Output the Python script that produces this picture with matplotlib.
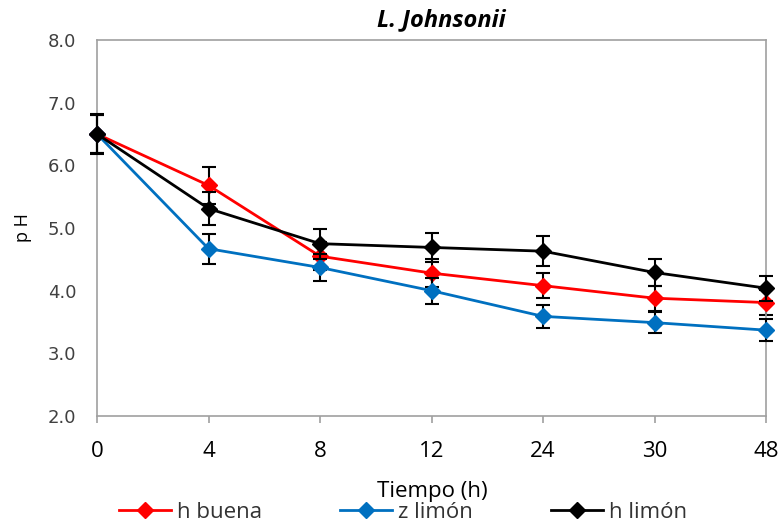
import matplotlib
matplotlib.use("Agg")
import matplotlib.pyplot as plt
import numpy as np

categories = ["0", "4", "8", "12", "24", "30", "48"]
h_buena = [6.50, 5.68, 4.55, 4.28, 4.08, 3.88, 3.81]
h_buena_err = [0.30, 0.30, 0.22, 0.22, 0.20, 0.20, 0.20]
z_limon = [6.50, 4.67, 4.37, 4.00, 3.59, 3.49, 3.37]
z_limon_err = [0.30, 0.24, 0.22, 0.21, 0.18, 0.17, 0.17]
h_limon = [6.50, 5.31, 4.75, 4.69, 4.63, 4.29, 4.04]
h_limon_err = [0.32, 0.27, 0.24, 0.23, 0.24, 0.21, 0.20]

plt.rcParams['font.family'] = ['Open Sans', 'DejaVu Sans']

fig = plt.figure(figsize=(7.82, 5.27), dpi=100)
ax = fig.add_axes([97/782, 1-416/527, (766-97)/782, (416-40)/527])

x = np.arange(len(categories))
series = [
    ("h buena", h_buena, h_buena_err, "#FF0000"),
    ("z limón", z_limon, z_limon_err, "#0070C0"),
    ("h limón", h_limon, h_limon_err, "#000000"),
]
handles = []
for i, (name, vals, err, col) in enumerate(series):
    ax.errorbar(x, vals, yerr=err, fmt='none', ecolor='black', elinewidth=1.5,
                capsize=5, capthick=1.5, zorder=2 + i * 2, clip_on=False)
    ln, = ax.plot(x, vals, color=col, lw=2, marker='D', markersize=8.5,
                  markeredgecolor=col, label=name, zorder=3 + i * 2, clip_on=False)
    handles.append(ln)

ax.set_xlim(0, len(categories) - 1)
ax.set_ylim(2.0, 8.0)
yt = np.arange(2.0, 8.01, 1.0)
ax.set_yticks(yt)
ax.set_yticklabels([f"{v:.1f}" for v in yt], family=['DejaVu Sans'])
ax.set_xticks(x)
ax.set_xticklabels(categories)

for s in ax.spines.values():
    s.set_color('#A0A0A0')
    s.set_linewidth(1.2)
ax.tick_params(axis='y', length=0, labelsize=13, labelcolor='#404040', pad=15)
ax.tick_params(axis='x', length=5, color='#A0A0A0', width=1.2, labelsize=16,
               labelcolor='#000000', pad=13)

ax.set_ylabel("p H", fontsize=13, labelpad=11)
fig.text(441/782, 1-20/527, "L. Johnsonii", ha='center', va='center',
         fontsize=17, fontweight='bold', fontstyle='italic')
fig.text(432/782, 1-492/527, "Tiempo (h)", ha='center', va='center', fontsize=16)

leg = fig.legend(handles=handles, loc='center', bbox_to_anchor=(403/782, 1-512/527),
                 ncol=3, frameon=False, fontsize=16, handlelength=2.35,
                 columnspacing=3.5, handletextpad=0.27, borderpad=0, borderaxespad=0)
for t in leg.get_texts():
    t.set_color('#333333')

fig.savefig("out.png", dpi=100)
